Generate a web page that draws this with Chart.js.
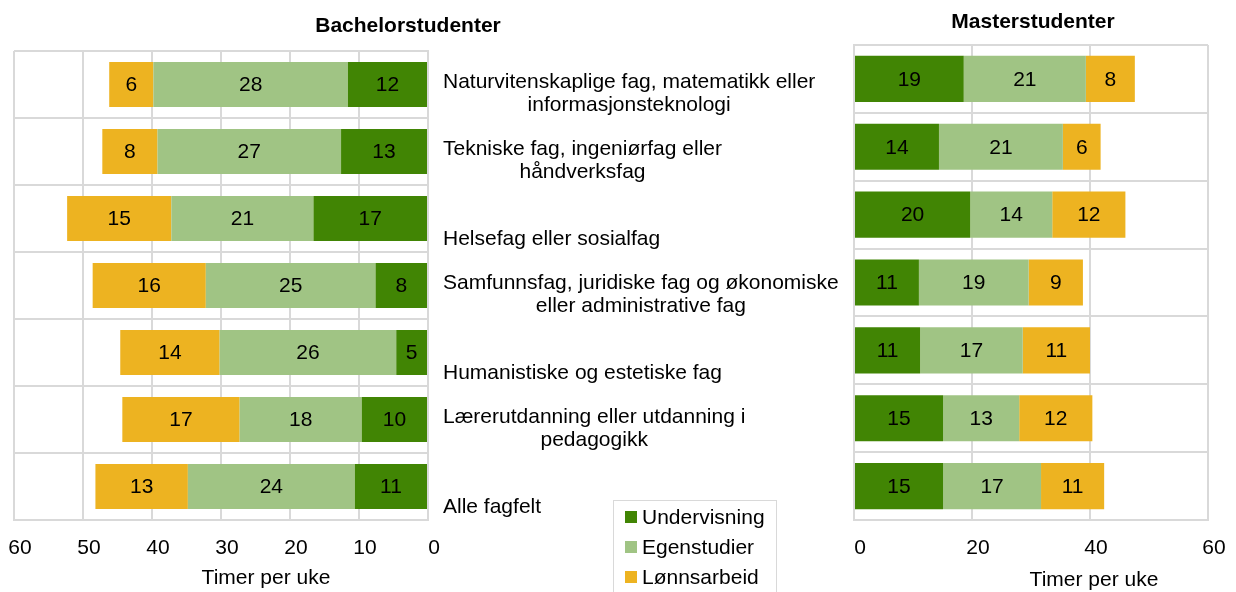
<!DOCTYPE html>
<html>
<head>
<meta charset="utf-8">
<script src="https://cdn.jsdelivr.net/npm/chart.js@4.4.0/dist/chart.umd.min.js"></script>
<style>
  body { margin: 0; background: #fff; }
  #wrap { position: relative; width: 1236px; height: 592px; overflow: hidden; }
  #bachelor { position: absolute; left: 0; top: 0; }
  #master { position: absolute; left: 840px; top: 0; }
</style>
</head>
<body>
<div id="wrap">
  <canvas id="bachelor" width="850" height="592"></canvas>
  <canvas id="master" width="396" height="592"></canvas>
</div>
<script>
// Data (hours per week)
const categories = [
    ['Naturvitenskaplige fag, matematikk eller', 'informasjonsteknologi'],
    ['Tekniske fag, ingeniørfag eller', 'håndverksfag'],
    ['Helsefag eller sosialfag'],
    ['Samfunnsfag, juridiske fag og økonomiske', 'eller administrative fag'],
    ['Humanistiske og estetiske fag'],
    ['Lærerutdanning eller utdanning i', 'pedagogikk'],
    ['Alle fagfelt']
];
const seriesNames = ['Undervisning', 'Egenstudier', 'Lønnsarbeid'];

const bachelorUndervisning = [11.6, 12.6, 16.6, 7.6, 4.6, 9.6, 10.6];
const bachelorEgenstudier = [28.2, 26.6, 20.6, 24.6, 25.6, 17.7, 24.2];
const bachelorLonnsarbeid = [6.4, 8.0, 15.1, 16.4, 14.4, 17.0, 13.4];

const masterUndervisning = [18.6, 14.4, 19.7, 11.0, 11.2, 15.1, 15.1];
const masterEgenstudier = [20.7, 21.0, 13.9, 18.6, 17.4, 12.9, 16.6];
const masterLonnsarbeid = [8.3, 6.4, 12.4, 9.2, 11.4, 12.4, 10.7];

const xTicks = { bachelor: 10, master: 20 };
const xMax = 60;

const colors = ['#418504', '#a0c484', '#edb321'];
const gridColor = '#d9d9d9';
const FONT = '"Liberation Sans", Arial, sans-serif';

Chart.defaults.font.family = FONT;
Chart.defaults.color = '#000';

// Draws rounded values in the middle of each bar segment
const barLabels = {
    id: 'barLabels',
    afterDatasetsDraw(chart) {
        const ctx = chart.ctx;
        ctx.save();
        ctx.font = '21px ' + FONT;
        ctx.fillStyle = '#000';
        ctx.textAlign = 'center';
        ctx.textBaseline = 'middle';
        chart.data.datasets.forEach((ds, di) => {
            const meta = chart.getDatasetMeta(di);
            meta.data.forEach((bar, i) => {
                const cx = (bar.x + bar.base) / 2;
                ctx.fillText(Math.round(ds.data[i]), cx, bar.y + 1);
            });
        });
        ctx.restore();
    }
};

// Titles, axis titles, category labels and legend placed like the original
const extraText = {
    id: 'extraText',
    afterDraw(chart, args, opts) {
        const ctx = chart.ctx;
        ctx.save();
        (opts.items || []).forEach(t => {
            ctx.font = t.font;
            ctx.fillStyle = '#000';
            ctx.textAlign = 'center';
            ctx.textBaseline = 'middle';
            ctx.fillText(t.text, t.x, t.y);
        });

        if (opts.categoryLabels) {
            const yScale = chart.scales.y;
            ctx.font = '21px ' + FONT;
            ctx.textBaseline = 'middle';
            ctx.textAlign = 'center';
            const left = opts.categoryLabels.x;
            chart.data.labels.forEach((lines, i) => {
                const cy = yScale.getPixelForValue(i);
                const w = Math.max(...lines.map(l => ctx.measureText(l).width));
                if (lines.length === 1) {
                    ctx.fillText(lines[0], left + w / 2, cy + 21);
                } else {
                    ctx.fillText(lines[0], left + w / 2, cy - 2);
                    ctx.fillText(lines[1], left + w / 2, cy + 21);
                }
            });
        }

        if (opts.legend) {
            const lg = opts.legend;
            ctx.strokeStyle = gridColor;
            ctx.lineWidth = 1;
            ctx.strokeRect(lg.x + 0.5, lg.y + 0.5, lg.w, 120);
            ctx.font = '21px ' + FONT;
            ctx.textAlign = 'left';
            ctx.textBaseline = 'middle';
            chart.data.datasets.forEach((ds, i) => {
                const cy = lg.y + 17 + i * 30;
                ctx.fillStyle = ds.backgroundColor;
                ctx.fillRect(lg.x + 12, cy - 6, 12, 12);
                ctx.fillStyle = '#000';
                ctx.fillText(ds.label, lg.x + 29, cy + 1);
            });
        }
        ctx.restore();
    }
};

function makeDatasets(values, barPct) {
    return values.map((v, i) => ({
        label: seriesNames[i],
        data: v,
        backgroundColor: colors[i],
        borderWidth: 0,
        barPercentage: barPct,
        categoryPercentage: 1
    }));
}

function makeOptions(reverse, step, padding, extra) {
    return {
        indexAxis: 'y',
        responsive: false,
        animation: false,
        devicePixelRatio: 1,
        layout: { padding: padding },
        scales: {
            x: {
                stacked: true,
                min: 0,
                max: xMax,
                reverse: reverse,
                afterFit: s => {
                    s.height = 72;
                    s.paddingLeft = 0;
                    s.paddingRight = 0;
                },
                ticks: {
                    stepSize: step,
                    padding: 16,
                    labelOffset: 6,
                    font: { size: 21 },
                    color: '#000'
                },
                grid: { color: gridColor, lineWidth: 2, drawTicks: false },
                border: { color: gridColor, width: 2 }
            },
            y: {
                stacked: true,
                position: reverse ? 'right' : 'left',
                afterFit: s => {
                    s.width = 0;
                    s.paddingTop = 0;
                    s.paddingBottom = 0;
                },
                ticks: { display: false },
                grid: { color: gridColor, lineWidth: 2, drawTicks: false },
                border: { color: gridColor, width: 2 }
            }
        },
        plugins: {
            legend: { display: false },
            tooltip: { enabled: false },
            extraText: extra
        }
    };
}

new Chart(document.getElementById('bachelor'), {
    type: 'bar',
    data: {
        labels: categories,
        datasets: makeDatasets([bachelorUndervisning, bachelorEgenstudier, bachelorLonnsarbeid], 0.67)
    },
    options: makeOptions(true, xTicks.bachelor, { left: 14, top: 51, right: 422, bottom: 0 }, {
        items: [
            { text: 'Bachelorstudenter', x: 408, y: 26, font: 'bold 21px ' + FONT },
            { text: 'Timer per uke', x: 266, y: 578, font: '21px ' + FONT }
        ],
        categoryLabels: { x: 443 },
        legend: { x: 613, y: 500, w: 163 }
    }),
    plugins: [barLabels, extraText]
});

new Chart(document.getElementById('master'), {
    type: 'bar',
    data: {
        labels: categories,
        datasets: makeDatasets([masterUndervisning, masterEgenstudier, masterLonnsarbeid], 0.68)
    },
    options: makeOptions(false, xTicks.master, { left: 14, top: 45, right: 28, bottom: 0 }, {
        items: [
            { text: 'Masterstudenter', x: 193, y: 22, font: 'bold 21px ' + FONT },
            { text: 'Timer per uke', x: 254, y: 580, font: '21px ' + FONT }
        ]
    }),
    plugins: [barLabels, extraText]
});
</script>
</body>
</html>
